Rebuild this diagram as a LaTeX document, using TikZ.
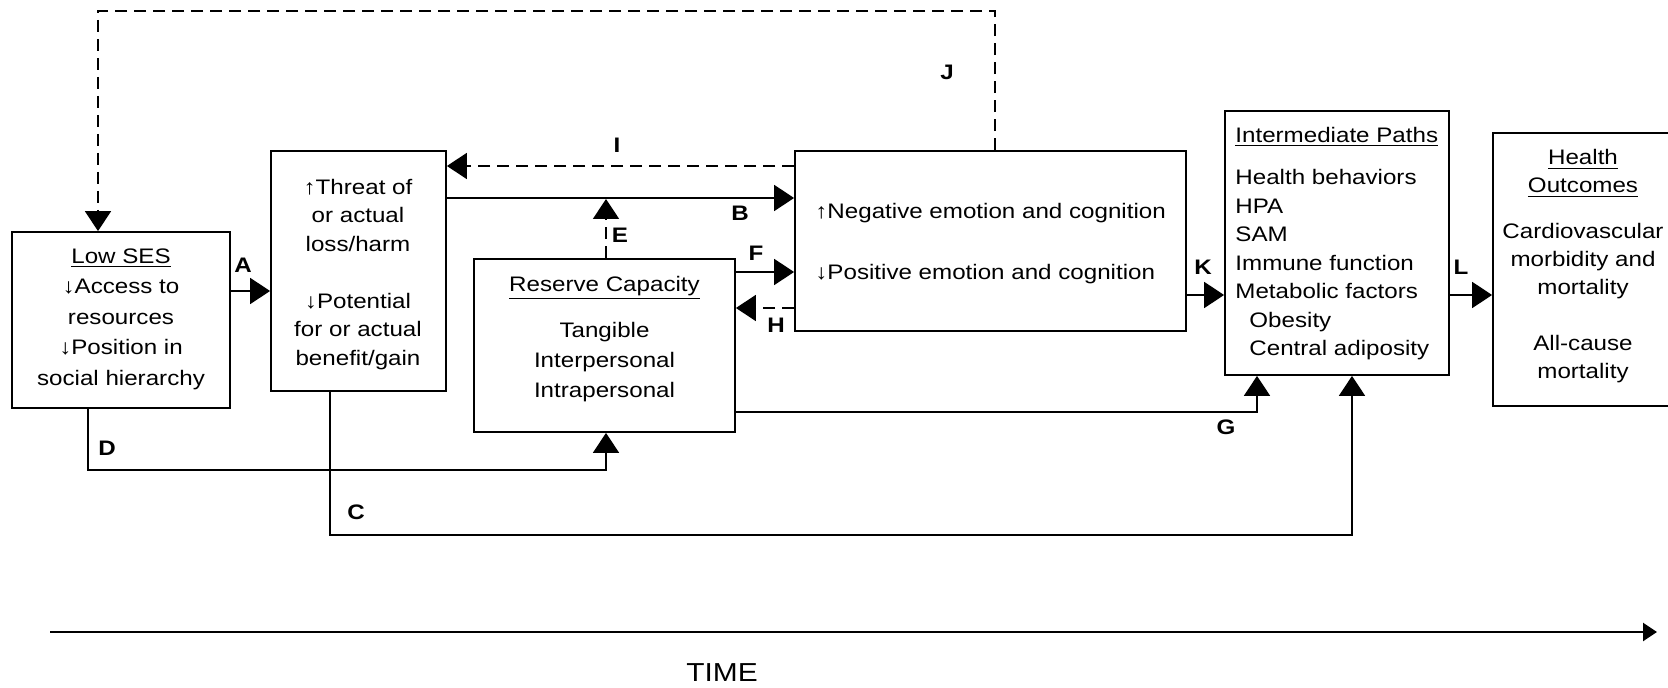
\documentclass[tikz,border=0pt]{standalone}
\usepackage{fontspec}
\setmainfont[FakeStretch=1.15]{Liberation Sans}
\usetikzlibrary{arrows.meta}
\begin{document}
\begin{tikzpicture}[x=0.5pt,y=-0.5pt,
  box/.style={draw, line width=0.9pt, inner sep=0pt},
  txt/.style={inner sep=0pt, font=\fontsize{10.5}{14.25}\selectfont},
  lbl/.style={inner sep=0pt, font=\fontsize{10.5}{12}\selectfont\bfseries},
  arr/.style={line width=0.9pt, -{Triangle[length=10pt,width=13pt]}},
  dasharr/.style={arr, dash pattern=on 6pt off 3.5pt}]
\clip (0,0) rectangle (1668,688);
\fill[white] (0,0) rectangle (1668,688);
% boxes
\node[box, minimum width=109pt, minimum height=88pt] (low) at (121,320) {};
\node[box, minimum width=87.5pt, minimum height=120pt] (threat) at (358.5,271) {};
\node[box, minimum width=130.5pt, minimum height=86.5pt] (reserve) at (604.5,345.5) {};
\node[box, minimum width=195.5pt, minimum height=90pt] (neg) at (990.5,241) {};
\node[box, minimum width=112pt, minimum height=132pt] (ip) at (1337,243) {};
\node[box, minimum width=93.5pt, minimum height=136.5pt] (ho) at (1586.5,269.5) {};
% texts
\node[txt, align=center, font=\fontsize{10.5}{15.25}\selectfont] (lowt) at (121,319) {\underline{Low SES}\\↓Access to\\resources\\↓Position in\\social hierarchy};
\node[txt, align=center] (threatt) at (358,274.5) {↑Threat of\\or actual\\loss/harm\\[14.25pt]↓Potential\\for or actual\\benefit/gain};
\node[txt, align=center, font=\fontsize{10.5}{15}\selectfont] (reservet) at (604.5,339) {\underline{Reserve Capacity}\\[8pt]Tangible\\Interpersonal\\Intrapersonal};
\node[txt, align=left, anchor=west, font=\fontsize{10.5}{30.5}\selectfont] (negt) at (815,244) {↑Negative emotion and cognition\\↓Positive emotion and cognition};
\node[txt, align=left, anchor=west] (ipt) at (1235,243.5) {\underline{Intermediate Paths}\\[7pt]Health behaviors\\HPA\\SAM\\Immune function\\Metabolic factors\\\hspace*{7pt}Obesity\\\hspace*{7pt}Central adiposity};
\node[txt, align=center, font=\fontsize{10.5}{14}\selectfont] (hot) at (1583,266.5) {\underline{Health}\\\underline{Outcomes}\\[9pt]Cardiovascular\\morbidity and\\mortality\\[14pt]All-cause\\mortality};
% connectors
\draw[arr] (low.east |- 0,291) -- (threat.west |- 0,291);
\draw[arr] (threat.east |- 0,198) -- (neg.west |- 0,198);
\draw[dasharr] (neg.west |- 0,166) -- (threat.east |- 0,166);
\draw[dasharr] (reserve.north -| 606,0) -- (606,199);
\draw[arr] (reserve.east |- 0,272) -- (neg.west |- 0,272);
\draw[dasharr] (neg.west |- 0,308) -- (reserve.east |- 0,308);
\draw[arr] (reserve.east |- 0,412) -- (1257,412) -- (ip.south -| 1257,0);
\draw[arr] (low.south -| 88,0) -- (88,470) -- (606,470) -- (reserve.south -| 606,0);
\draw[arr] (threat.south -| 330,0) -- (330,535) -- (1352,535) -- (ip.south -| 1352,0);
\draw[arr] (neg.east |- 0,295) -- (ip.west |- 0,295);
\draw[arr] (ip.east |- 0,295) -- (ho.west |- 0,295);
\draw[dasharr] (neg.north -| 995,0) -- (995,11) -- (98,11) -- (low.north -| 98,0);
% labels
\node[lbl] (la) at (243,265) {A};
\node[lbl] (lb) at (740,213) {B};
\node[lbl] (lc) at (356,512) {C};
\node[lbl] (ld) at (107,448) {D};
\node[lbl] (le) at (620,235) {E};
\node[lbl] (lf) at (756,253) {F};
\node[lbl] (lg) at (1226,427) {G};
\node[lbl] (lh) at (776,325) {H};
\node[lbl] (li) at (617,145) {I};
\node[lbl] (lj) at (947,72) {J};
\node[lbl] (lk) at (1203,267) {K};
\node[lbl] (ll) at (1461,267) {L};
% time axis
\coordinate (t0) at (50,632);
\coordinate (t1) at (1657,632);
\draw[line width=1.2pt, -{Triangle[length=7pt,width=9pt]}] (t0) -- (t1);
\node[inner sep=0pt, font=\fontsize{13}{15}\selectfont] (time) at (722,673) {TIME};
\end{tikzpicture}
\end{document}
